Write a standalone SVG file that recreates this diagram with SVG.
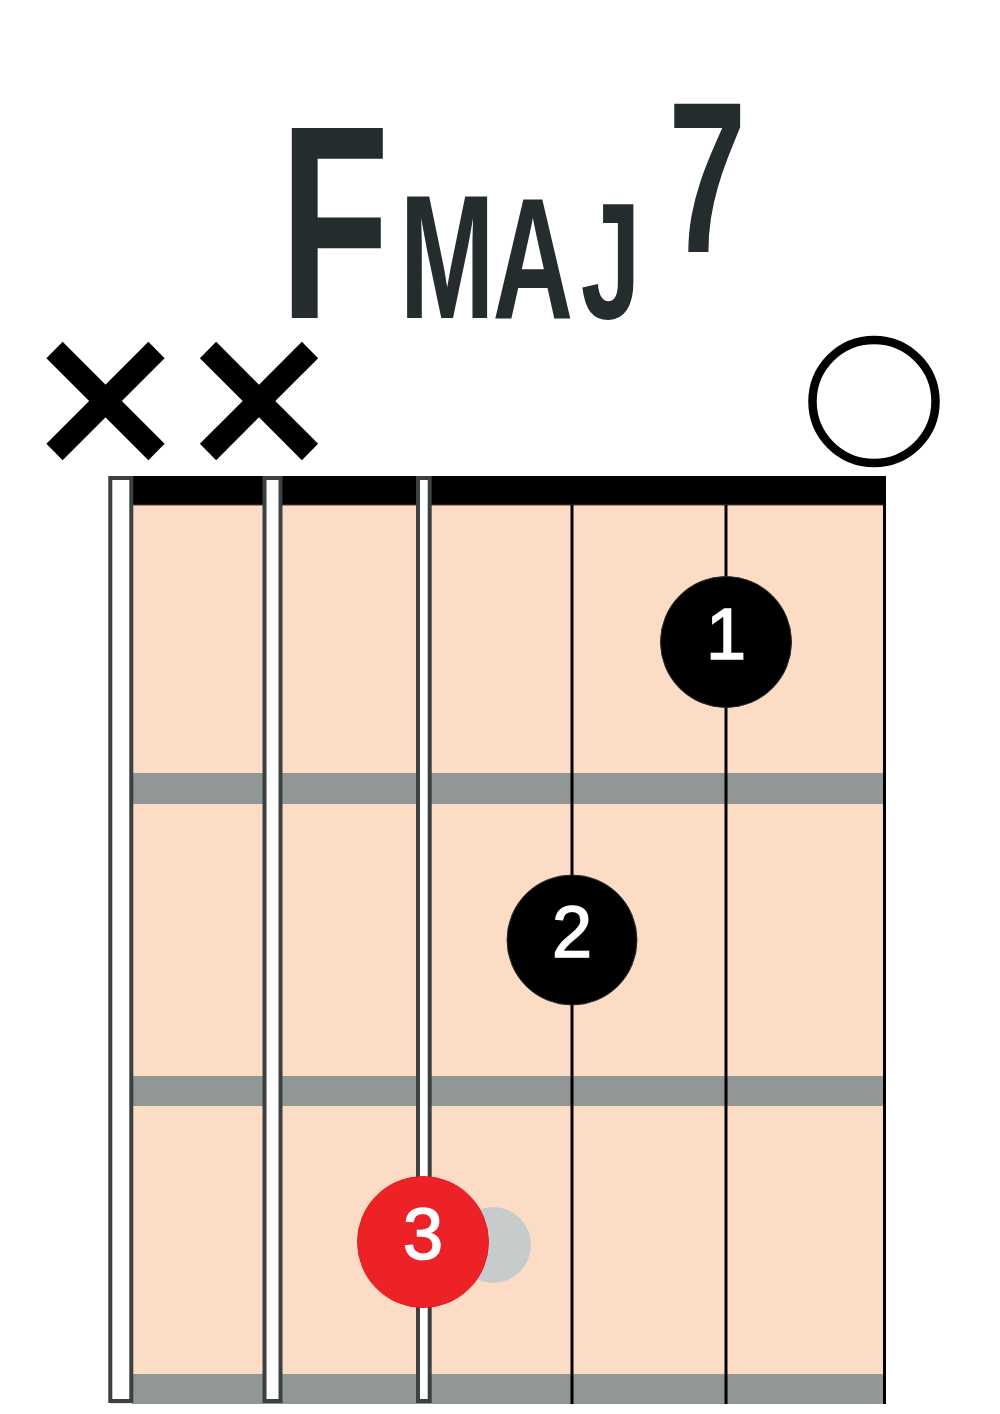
<svg xmlns="http://www.w3.org/2000/svg" width="1000" height="1414" viewBox="0 0 1000 1414">
  <style>
    .fret { fill: #919696; }
    .str { stroke: #000; stroke-width: 3; }
    .wstr { fill: #fff; stroke: #3b4041; stroke-width: 4; }
    .x { stroke: #000; stroke-width: 23; stroke-linecap: butt; }
    .finger { fill: #000; stroke: #2a2a2a; stroke-width: 1; }
    .num { font-family: "Liberation Sans", Arial, sans-serif; font-size: 72px; fill: #fff; stroke: #fff; stroke-width: 1.6; text-anchor: middle; }
    .title { font-family: "Liberation Sans", Arial, sans-serif; font-weight: bold; fill: #242c2e; text-anchor: middle; }
  </style>
  <rect width="1000" height="1414" fill="#fff"/>

  <g id="title">
    <text class="title" transform="scale(0.65,1)">
      <tspan x="517" y="318" font-size="276">F</tspan>
      <tspan x="690" y="318" font-size="176">M</tspan>
      <tspan x="822" y="318" font-size="172">A</tspan>
      <tspan x="942" y="318" font-size="166">J</tspan>
      <tspan x="1088" y="252" font-size="216">7</tspan>
    </text>
  </g>

  <g id="fretboard">
    <rect x="110" y="476" width="776" height="928" fill="#fddcc6"/>
    <rect x="132" y="476" width="754" height="29" fill="#000"/>
    <line x1="132" y1="505" x2="884" y2="505" stroke="#5a3a30" stroke-width="1"/>
    <rect class="fret" x="132" y="773" width="752" height="31"/>
    <rect class="fret" x="132" y="1076" width="752" height="30"/>
    <rect class="fret" x="132" y="1374" width="752" height="30"/>
  </g>

  <g id="strings">
    <line class="str" x1="572" y1="505" x2="572" y2="1404"/>
    <line class="str" x1="726" y1="505" x2="726" y2="1404"/>
    <line class="str" x1="884.5" y1="476" x2="884.5" y2="1404"/>
    <rect class="wstr" x="110.3" y="478" width="21" height="923"/>
    <rect class="wstr" x="264.5" y="478" width="16" height="923"/>
    <rect class="wstr" x="418" y="478" width="11.7" height="923"/>
  </g>

  <g id="mute-1">
    <line class="x" x1="54.5" y1="350" x2="156.5" y2="452"/>
    <line class="x" x1="156.5" y1="350" x2="54.5" y2="452"/>
  </g>
  <g id="mute-2">
    <line class="x" x1="208" y1="350" x2="310" y2="452"/>
    <line class="x" x1="310" y1="350" x2="208" y2="452"/>
  </g>
  <g id="open-6">
    <circle cx="874" cy="401.5" r="61.5" fill="none" stroke="#000" stroke-width="8.5"/>
  </g>

  <g id="finger-1">
    <circle class="finger" cx="726" cy="642" r="65.5"/>
    <text class="num" x="726" y="659">1</text>
  </g>
  <g id="finger-2">
    <circle class="finger" cx="572" cy="940" r="65"/>
    <text class="num" x="572" y="957">2</text>
  </g>
  <g id="ghost">
    <circle cx="493" cy="1245" r="38" fill="#c8cbcb"/>
  </g>
  <g id="finger-3">
    <circle cx="423" cy="1242" r="65.5" fill="#ec2227" stroke="#e01e24" stroke-width="1"/>
    <text class="num" x="423" y="1259">3</text>
  </g>
</svg>
